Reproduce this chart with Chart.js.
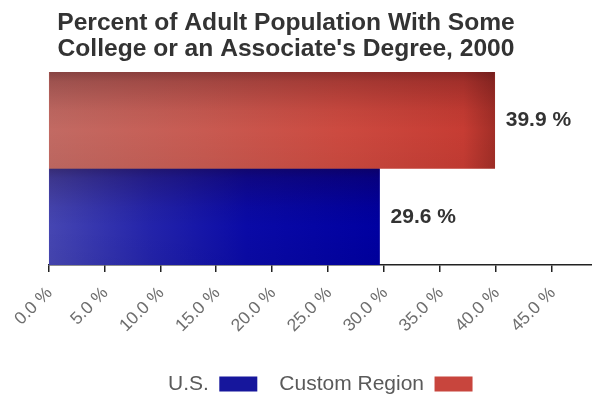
<!DOCTYPE html>
<html>
<head>
<meta charset="utf-8">
<script src="https://cdn.jsdelivr.net/npm/chart.js@4/dist/chart.umd.min.js"></script>
<style>
  html, body { margin: 0; padding: 0; background: #ffffff; overflow: hidden; }
  #wrap { position: relative; width: 592px; height: 394px; overflow: hidden; }
  #chart { position: absolute; left: -20px; top: 0; width: 612px; height: 394px; }
</style>
</head>
<body>
<div id="wrap"><canvas id="chart" width="612" height="394"></canvas></div>
<script>
// Share of adults (25+) with some college or an associate's degree, 2000
const categories = [''];
const seriesNames = ['Custom Region', 'U.S.'];
const customRegionValues = [39.9];
const usValues = [29.6];
const xTickValues = [0, 5, 10, 15, 20, 25, 30, 35, 40, 45];
const titleLines = ['Percent of Adult Population With Some', "College or an Associate's Degree, 2000"];

const FONT = "'Liberation Sans', Arial, Helvetica, sans-serif";

const redStops = [[0, '#c26a63'], [0.35, '#c85a51'], [0.65, '#cc4a40'], [0.93, '#c63c33'], [1, '#a22e27']];
const blueStops = [[0, '#4646b2'], [0.3, '#2424aa'], [0.6, '#0a0aa6'], [1, '#0000a0']];
const legendColors = ['#c8453d', '#16169c'];

// Horizontal gradient running from the axis origin to the end of the bar
function barFill(stops) {
  return (ctx) => {
    const chart = ctx.chart;
    if (!chart.chartArea || ctx.raw === undefined) return stops[1][1];
    const xs = chart.scales.x;
    const g = chart.ctx.createLinearGradient(xs.getPixelForValue(0), 0, xs.getPixelForValue(ctx.raw), 0);
    stops.forEach(([o, c]) => g.addColorStop(o, c));
    return g;
  };
}

// Darkened top edge on each bar for a lit, rounded look
const barShading = {
  id: 'barShading',
  afterDatasetsDraw(chart) {
    const c = chart.ctx;
    chart.data.datasets.forEach((ds, i) => {
      chart.getDatasetMeta(i).data.forEach((el) => {
        const { x, y, base, height } = el.getProps(['x', 'y', 'base', 'height'], true);
        const top = y - height / 2;
        const g = c.createLinearGradient(0, top, 0, top + height);
        g.addColorStop(0, 'rgba(30,0,10,0.36)');
        g.addColorStop(0.1, 'rgba(30,0,10,0.22)');
        g.addColorStop(0.4, 'rgba(30,0,10,0.05)');
        g.addColorStop(0.6, 'rgba(0,0,0,0)');
        g.addColorStop(1, 'rgba(0,0,0,0.04)');
        c.save();
        c.fillStyle = g;
        c.fillRect(base, top, x - base, height);
        c.restore();
      });
    });
  }
};

// Value labels to the right of each bar
const valueLabels = {
  id: 'valueLabels',
  afterDatasetsDraw(chart) {
    const c = chart.ctx;
    c.save();
    c.font = 'bold 21px ' + FONT;
    c.fillStyle = '#333333';
    c.textAlign = 'left';
    c.textBaseline = 'middle';
    chart.data.datasets.forEach((ds, i) => {
      chart.getDatasetMeta(i).data.forEach((el, j) => {
        c.fillText(ds.data[j].toFixed(1) + ' %', el.x + 11, el.y);
      });
    });
    c.restore();
  }
};

new Chart(document.getElementById('chart'), {
  type: 'bar',
  data: {
    labels: categories,
    datasets: [
      { label: seriesNames[0], data: customRegionValues, backgroundColor: barFill(redStops), borderWidth: 0 },
      { label: seriesNames[1], data: usValues, backgroundColor: barFill(blueStops), borderWidth: 0 }
    ]
  },
  options: {
    indexAxis: 'y',
    responsive: false,
    animation: false,
    devicePixelRatio: 1,
    layout: { padding: { left: 0, right: 0, top: 0, bottom: -10.5 } },
    datasets: { bar: { barPercentage: 1, categoryPercentage: 1 } },
    scales: {
      x: {
        min: 0,
        max: 48.6,
        afterBuildTicks: (scale) => { scale.ticks = xTickValues.map((v) => ({ value: v })); },
        afterFit: (scale) => { scale.height = 86.5; },
        ticks: {
          autoSkip: false,
          minRotation: 45,
          maxRotation: 45,
          padding: 11,
          labelOffset: 1,
          color: '#6e6e6e',
          font: { family: FONT, size: 17.5 },
          callback: (v) => Number(v).toFixed(1) + ' %'
        },
        grid: { display: true, drawOnChartArea: false, drawTicks: true, tickLength: 7, color: '#222222', lineWidth: 1.5 },
        border: { display: true, color: '#222222', width: 1.5 }
      },
      y: {
        display: true,
        afterFit: (scale) => { scale.width = 68.5; },
        ticks: { display: false },
        grid: { display: false },
        border: { display: false }
      }
    },
    plugins: {
      title: {
        display: true,
        text: titleLines,
        color: '#333333',
        font: { family: FONT, size: 24.6, weight: 'bold', lineHeight: 26 / 24.6 },
        padding: { top: 10.5, bottom: 9.5 }
      },
      legend: {
        position: 'bottom',
        fullSize: false,
        rtl: true,
        labels: {
          boxWidth: 38,
          boxHeight: 15,
          padding: 22,
          color: '#5a5a5a',
          font: { family: FONT, size: 21 },
          generateLabels: (chart) =>
            Chart.defaults.plugins.legend.labels.generateLabels(chart).map((item, i) =>
              Object.assign(item, { fillStyle: legendColors[i], strokeStyle: legendColors[i], lineWidth: 0 }))
        }
      },
      tooltip: { enabled: false }
    }
  },
  plugins: [barShading, valueLabels]
});
</script>
</body>
</html>
